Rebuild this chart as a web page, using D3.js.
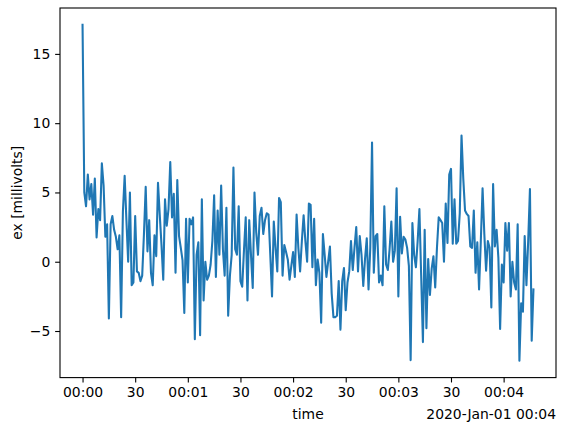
<!DOCTYPE html>
<html>
<head>
<meta charset="utf-8">
<script src="https://cdn.jsdelivr.net/npm/d3@7"></script>
<style>
  html, body { margin: 0; padding: 0; background: #fff; }
  svg { display: block; }
  text { font-family: "DejaVu Sans", sans-serif; fill: #000; }
</style>
</head>
<body>
<svg id="chart" width="565" height="432"></svg>
<script>
// ---- data (1-second samples starting 2020-01-01 00:00:00) ----
const startTime = "2020-01-01T00:00:00Z";
const sampleSeconds = 1;
const exValues = [
  17.1, 5.0, 4.0, 6.3, 4.5, 5.6, 3.4, 6.0, 1.75, 3.8, 3.0, 7.1, 5.5, 1.8, 2.7, -4.1, 2.7, 3.3, 2.3, 1.8,
  0.9, 1.9, -4.0, 3.6, 6.2, 3.0, 0.0, 5.0, -1.7, -1.5, 3.3, -0.7, -0.8, -1.4, -1.0, 2.0, 5.4, 0.75, 3.0, -0.8, -1.7,
  1.9, 0.4, 5.7, 3.4, 1.2, -1.3, 4.5, 2.6, 3.8, 7.2, 3.2, 4.9, -0.8, 5.9, 1.85, 1.0, 0.1, -3.7, 3.1, -1.5,
  3.1, 2.7, 3.2, -5.6, 0.5, 1.4, -5.3, 4.5, -2.8, 0.0, -1.3, -1.0, -0.2, 1.5, 4.8, -1.1, 3.7, 0.5, 5.5, 0.9,
  -1.0, 3.9, -3.9, -1.0, 0.5, 6.8, 0.9, 0.5, 4.0, -1.4, -1.8, 0.8, 3.2, -2.8, 3.0, 0.5, -1.9, 5.0, 2.1, 0.5,
  3.3, 3.9, 2.0, 3.0, 3.5, 3.4, 0.5, -2.5, 2.9, 1.0, -0.7, 4.6, 4.3, -1.0, 1.2, 0.7, 0.15, -1.3, -0.3, 0.7,
  -1.1, 3.4, 1.0, -0.7, 1.5, 3.35, 1.5, 0.0, 4.2, 4.1, -0.4, 3.1, -1.7, 0.15, -0.8, -4.4, 2.0, 0.5, -1.1, 0.0,
  1.1, -2.3, -4.0, -4.0, -3.9, -1.4, -4.9, -1.4, -0.45, -3.5, -1.5, -0.7, 1.5, -0.6, 1.0, 2.5, -0.7, 1.85, 0.5, -1.75,
  0.2, 1.7, -2.0, 1.0, 8.6, -0.8, 1.85, 2.0, -1.5, -1.0, -1.7, 4.0, -0.2, -0.6, 0.9, 2.9, 0.0, 0.8, 5.3, -2.5,
  3.25, 0.6, 1.8, 1.6, 1.0, -0.3, -7.1, 2.8, 0.5, -0.4, 1.5, 3.8, -1.0, -5.8, 2.3, -4.8, 0.2, -2.4, -0.5, 0.4,
  -1.85, 1.0, 3.2, 3.0, 2.8, 0.0, 4.2, 1.35, 6.3, 6.7, 1.3, 4.5, 1.3, 1.5, 3.5, 9.1, 6.0, 3.7, 3.45, 3.3,
  1.1, 1.0, 3.7, -0.8, 1.4, -2.0, 1.5, 5.3, 2.0, -0.65, 1.5, 1.0, -3.3, 5.6, 1.1, 2.3, 0.3, -4.85, -0.2, -1.5,
  2.8, 0.8, 2.8, -2.5, 0.0, -1.5, -2.0, 2.7, -7.15, -3.0, -3.6, 1.85, -1.7, 1.5, 5.25, -5.7, -2.0
];
const yTickValues = [-5, 0, 5, 10, 15];
const xTickStepSeconds = 30;
const xLabel = "time";
const yLabel = "ex [millivolts]";
const offsetLabel = "2020-Jan-01 00:04";

// ---- layout ----
const W = 565, H = 432;
const m = { left: 60, right: 556, top: 8, bottom: 377.6 };
const t0 = new Date(startTime);
const data = exValues.map((v, i) => ({ t: new Date(t0.getTime() + i * sampleSeconds * 1000), v }));

const svg = d3.select("#chart");
svg.append("rect").attr("width", W).attr("height", H).attr("fill", "#fff");

const tExt = d3.extent(data, d => d.t);
const tPad = (tExt[1] - tExt[0]) * 0.05;
const x = d3.scaleUtc()
  .domain([new Date(+tExt[0] - tPad), new Date(+tExt[1] + tPad)])
  .range([m.left, m.right]);
const vExt = d3.extent(data, d => d.v);
const vPad = (vExt[1] - vExt[0]) * 0.05;
const y = d3.scaleLinear()
  .domain([vExt[0] - vPad, vExt[1] + vPad])
  .range([m.bottom, m.top]);

const tickLen = 4.86, tickPad = 4.86, fs = 13.9;

// x axis
const fmt = d => d.getUTCSeconds() === 0 ? d3.utcFormat("%H:%M")(d) : d3.utcFormat("%S")(d);
const xAxis = d3.axisBottom(x)
  .ticks(d3.utcSecond.every(xTickStepSeconds))
  .tickFormat(fmt)
  .tickSize(tickLen).tickPadding(tickPad);
const gx = svg.append("g").attr("transform", `translate(0,${m.bottom})`).call(xAxis);
gx.select(".domain").remove();
gx.selectAll("line").attr("stroke", "#000").attr("stroke-width", 1.1);
gx.selectAll("text").attr("font-size", fs).attr("font-family", "DejaVu Sans").attr("fill", "#000");

// y axis
const yAxis = d3.axisLeft(y).tickValues(yTickValues).tickFormat(d3.format("d"))
  .tickSize(tickLen).tickPadding(tickPad);
const gy = svg.append("g").attr("transform", `translate(${m.left},0)`).call(yAxis);
gy.select(".domain").remove();
gy.selectAll("line").attr("stroke", "#000").attr("stroke-width", 1.1);
gy.selectAll("text").attr("font-size", fs).attr("font-family", "DejaVu Sans").attr("fill", "#000")
  .text(d => d < 0 ? "\u2212" + Math.abs(d) : d);

// line
const line = d3.line().x(d => x(d.t)).y(d => y(d.v));
svg.append("path").datum(data)
  .attr("d", line)
  .attr("fill", "none")
  .attr("stroke", "#1f77b4")
  .attr("stroke-width", 2.08)
  .attr("stroke-linejoin", "round")
  .attr("stroke-linecap", "square");

// frame
svg.append("rect")
  .attr("x", m.left).attr("y", m.top)
  .attr("width", m.right - m.left).attr("height", m.bottom - m.top)
  .attr("fill", "none").attr("stroke", "#000").attr("stroke-width", 1.1);

// labels
svg.append("text").attr("x", (m.left + m.right) / 2).attr("y", 419)
  .attr("text-anchor", "middle").attr("font-size", fs).text(xLabel);
svg.append("text").attr("x", m.right).attr("y", 419)
  .attr("text-anchor", "end").attr("font-size", fs).text(offsetLabel);
svg.append("text")
  .attr("transform", `translate(22,${(m.top + m.bottom) / 2}) rotate(-90)`)
  .attr("text-anchor", "middle").attr("font-size", fs).text(yLabel);
</script>
</body>
</html>
